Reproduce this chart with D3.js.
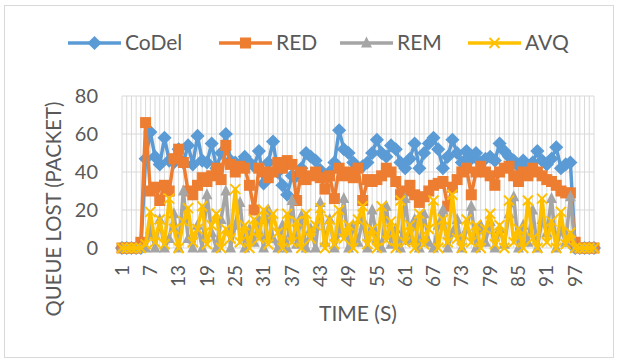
<!DOCTYPE html>
<html>
<head>
<meta charset="utf-8">
<script src="https://cdn.jsdelivr.net/npm/d3@7"></script>
<style>
  body { margin: 0; background: #fff; }
  text { font-family: Lato, "Open Sans", sans-serif; fill: #595959; }
</style>
</head>
<body>
<div id="chart"></div>
<script>
// categories (time in seconds) and tick labels
var categories = d3.range(1, 102);
var xTickLabels = [1, 7, 13, 19, 25, 31, 37, 43, 49, 55, 61, 67, 73, 79, 85, 91, 97];
var yTicks = [0, 20, 40, 60, 80];

// series values
var codel = [0,0,0,0,0, 47,61,48,44,58, 46,45,52,45,54, 44,59,46,45,55, 42,50,60,46,45,
  44,48,45,43,51, 34,45,56,40,33, 28,38,38,42,50, 48,46,41,38,40, 45,62,52,50,45,
  42,43,45,50,57, 50,48,54,52,45, 42,47,55,42,50, 55,58,52,42,48, 57,50,45,51,47,
  50,45,47,48,46, 55,51,48,46,43, 46,43,45,51,46, 44,47,53,42,44, 45,0,0,0,0, 0];
var red = [0,0,0,0,3, 66,30,32,25,33, 30,47,52,45,30, 28,33,37,35,38, 42,36,54,44,40,
  43,42,33,20,42, 40,37,40,45,42, 46,44,25,40,36, 38,40,37,31,38, 26,42,38,40,37,
  42,25,36,35,36, 38,42,40,35,28, 30,33,28,24,27, 30,33,34,35,22, 32,36,40,42,28,
  40,43,40,38,33, 40,42,43,38,35, 40,38,42,40,38, 36,35,33,30,29, 29,3,0,0,0, 0];
var rem = [0,0,0,0,0, 0,10,0,15,0, 5,18,0,30,5, 0,12,0,28,8, 0,15,30,0,12,
  24,0,10,3,15, 0,20,5,0,12, 0,25,2,17,0, 10,0,24,3,15, 0,8,26,0,12,
  3,15,0,20,5, 0,22,2,10,0, 26,4,15,0,18, 3,0,12,20,0, 8,15,0,10,22,
  0,12,3,14,0, 10,2,18,27,0, 12,3,20,0,15, 8,26,0,10,3, 27,0,0,0,0, 0];
var avq = [0,0,0,0,0, 2,19,3,15,2, 26,10,0,14,21, 3,10,22,2,12, 18,0,10,5,31,
  3,12,0,15,5, 20,2,18,8,0, 18,3,14,0,18, 5,12,21,0,15, 2,20,5,12,0,
  15,22,2,10,0, 22,4,14,0,25, 3,12,0,18,2, 10,25,0,15,3, 28,5,0,15,3,
  12,0,10,18,2, 12,0,25,3,10, 0,25,5,0,26, 3,14,0,19,2, 8,0,0,0,0, 0];

var seriesNames = ["CoDel", "RED", "REM", "AVQ"];
var seriesColors = ["#5B9BD5", "#ED7D31", "#A5A5A5", "#FFC000"];
var seriesValues = [codel, red, rem, avq];

var width = 619, height = 363;
var plot = {left: 122, right: 594, top: 96, bottom: 248};

var svg = d3.select("#chart").append("svg")
    .attr("width", width)
    .attr("height", height);

svg.append("rect")
    .attr("x", 4.5).attr("y", 5.5)
    .attr("width", 609).attr("height", 352)
    .attr("fill", "#fff")
    .attr("stroke", "#d9d9d9");

var x = d3.scalePoint().domain(categories).range([plot.left, plot.right]);
var y = d3.scaleLinear().domain([0, 80]).range([plot.bottom, plot.top]);

// gridlines
svg.append("g")
    .selectAll("line")
    .data(categories)
    .enter().append("line")
    .attr("x1", d => x(d)).attr("x2", d => x(d))
    .attr("y1", plot.top).attr("y2", plot.bottom)
    .attr("stroke", "#d9d9d9").attr("stroke-width", 1);

svg.append("g")
    .selectAll("line")
    .data(yTicks)
    .enter().append("line")
    .attr("x1", plot.left).attr("x2", plot.right)
    .attr("y1", d => y(d)).attr("y2", d => y(d))
    .attr("stroke", "#d9d9d9").attr("stroke-width", 1);

// y labels
svg.append("g")
    .selectAll("text")
    .data(yTicks)
    .enter().append("text")
    .attr("x", 98)
    .attr("y", d => y(d))
    .attr("dy", "0.35em")
    .attr("text-anchor", "end")
    .style("font-size", "20px")
    .text(d => d);

// x labels, rotated
svg.append("g")
    .selectAll("text")
    .data(xTickLabels)
    .enter().append("text")
    .attr("transform", d => "translate(" + x(d) + ",265) rotate(-90)")
    .attr("dy", "0.35em")
    .attr("text-anchor", "end")
    .style("font-size", "19px")
    .text(d => d);

// axis titles
svg.append("text")
    .attr("x", (plot.left + plot.right) / 2)
    .attr("y", 321)
    .attr("text-anchor", "middle")
    .style("font-size", "21px")
    .text("TIME (S)");

svg.append("text")
    .attr("transform", "translate(61,209) rotate(-90)")
    .attr("text-anchor", "middle")
    .attr("textLength", 215)
    .attr("lengthAdjust", "spacingAndGlyphs")
    .style("font-size", "21px")
    .text("QUEUE LOST (PACKET)");

function drawMarker(g, i, cx, cy) {
    var c = seriesColors[i];
    if (i == 0) {
        g.append("rect").attr("x", -5).attr("y", -5).attr("width", 10).attr("height", 10)
            .attr("transform", "translate(" + cx + "," + cy + ") rotate(45)")
            .attr("fill", c);
    } else if (i == 1) {
        g.append("rect").attr("x", cx - 5.5).attr("y", cy - 5.5).attr("width", 11).attr("height", 11)
            .attr("fill", c);
    } else if (i == 2) {
        g.append("path")
            .attr("d", "M" + cx + "," + (cy - 6.5) + "L" + (cx + 5.5) + "," + (cy + 4.5) + "L" + (cx - 5.5) + "," + (cy + 4.5) + "Z")
            .attr("fill", c);
    } else {
        g.append("path")
            .attr("d", "M" + (cx - 5) + "," + (cy - 5) + "L" + (cx + 5) + "," + (cy + 5) +
                "M" + (cx + 5) + "," + (cy - 5) + "L" + (cx - 5) + "," + (cy + 5))
            .attr("stroke", c).attr("stroke-width", 2).attr("fill", "none");
    }
}

var line = d3.line()
    .x((d, i) => x(categories[i]))
    .y(d => y(d));

seriesValues.forEach(function(vals, i) {
    var g = svg.append("g");
    g.append("path")
        .attr("d", line(vals))
        .attr("fill", "none")
        .attr("stroke", seriesColors[i])
        .attr("stroke-width", 3.5)
        .attr("stroke-linejoin", "round");
    vals.forEach(function(v, j) {
        drawMarker(g, i, x(categories[j]), y(v));
    });
});

// legend
var legendX = [68, 219, 340, 468];
seriesNames.forEach(function(name, i) {
    var g = svg.append("g");
    g.append("line")
        .attr("x1", legendX[i]).attr("x2", legendX[i] + 53)
        .attr("y1", 43).attr("y2", 43)
        .attr("stroke", seriesColors[i]).attr("stroke-width", 3.5);
    drawMarker(g, i, legendX[i] + 26.5, 43);
    g.append("text")
        .attr("x", legendX[i] + 57)
        .attr("y", 43)
        .attr("dy", "0.35em")
        .style("font-size", "21px")
        .text(name);
});
</script>
</body>
</html>
